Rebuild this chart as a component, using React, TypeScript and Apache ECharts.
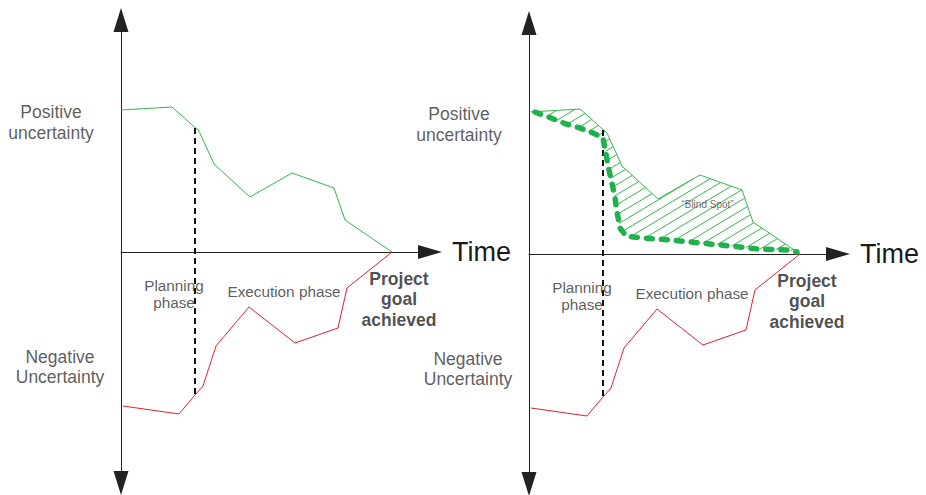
import React, { useEffect, useRef } from 'react';
import * as echarts from 'echarts';

// Shared curves (time units from the vertical axis, uncertainty above/below the time axis)
const positiveUncertainty = [[0, 142], [51, 145], [78, 121], [93, 88], [129, 55], [171, 79], [213, 64], [224, 32], [271, 0]];
const negativeUncertainty = [[2, -154], [58, -162], [74, -143], [82, -134], [95, -94], [128, -55], [174, -91], [217, -76], [226, -36], [271, 0]];
const phaseBoundary = [[74, 124], [74, -143]];
// Perceived uncertainty (thick dotted line, right panel only)
const perceivedUncertainty = [[6, 142], [22, 136], [37, 130], [51, 126], [64, 121], [74, 116], [77, 100], [80, 84], [83, 71], [86, 56], [88, 42], [91, 26], [97, 18], [113, 16], [142, 14], [171, 11], [201, 8], [229, 5], [258, 4], [268, 2]];

const annotationTexts = ['Positive\nuncertainty', 'Negative\nUncertainty', 'Planning\nphase', 'Execution phase', 'Project\ngoal\nachieved'];
const blindSpotText = '\u201CBlind Spot\u201D';
const axisName = 'Time';

const FONT = '"Liberation Sans", Arial, Helvetica, sans-serif';
const GREEN = '#35b54f';
const DOT_GREEN = '#1fb14c';
const RED = '#d9232f';

const annotationLayout = [
  { at: [-70, 129.5], size: 17.5, lh: 21, weight: 'normal', color: '#333' },
  { at: [-61, -115], size: 17.5, lh: 20, weight: 'normal', color: '#333' },
  { at: [53, -42], size: 15.3, lh: 17, weight: 'normal', color: '#333' },
  { at: [163, -39], size: 15.3, lh: 17, weight: 'normal', color: '#333' },
  { at: [278, -47], size: 17.5, lh: 20.5, weight: 'bold', color: '#222' },
];

const HATCH_ANGLE = 31;
const HATCH_STEP = 8.6;

function hatchRender(_params: any, api: any) {
  const ring = [...positiveUncertainty, ...perceivedUncertainty.slice().reverse()].map((p) => api.coord(p));
  const a = (HATCH_ANGLE * Math.PI) / 180;
  const d = [Math.cos(a), -Math.sin(a)];
  const n = [Math.sin(a), Math.cos(a)];
  let cmin = Infinity;
  let cmax = -Infinity;
  ring.forEach((p: number[]) => {
    const c = n[0] * p[0] + n[1] * p[1];
    cmin = Math.min(cmin, c);
    cmax = Math.max(cmax, c);
  });
  const children: any[] = [];
  for (let c = cmin + HATCH_STEP / 2; c < cmax; c += HATCH_STEP) {
    const pts: number[][] = [];
    for (let i = 0; i < ring.length; i++) {
      const p1 = ring[i];
      const p2 = ring[(i + 1) % ring.length];
      const s1 = n[0] * p1[0] + n[1] * p1[1] - c;
      const s2 = n[0] * p2[0] + n[1] * p2[1] - c;
      if ((s1 < 0) !== (s2 < 0)) {
        const t = s1 / (s1 - s2);
        pts.push([p1[0] + t * (p2[0] - p1[0]), p1[1] + t * (p2[1] - p1[1])]);
      }
    }
    pts.sort((u, v) => d[0] * u[0] + d[1] * u[1] - (d[0] * v[0] + d[1] * v[1]));
    for (let k = 0; k + 1 < pts.length; k += 2) {
      children.push({
        type: 'line',
        shape: { x1: pts[k][0], y1: pts[k][1], x2: pts[k + 1][0], y2: pts[k + 1][1] },
        style: { stroke: GREEN, lineWidth: 1 },
      });
    }
  }
  return { type: 'group', children };
}

function panelSeries(i: number, withBlindSpot: boolean) {
  const base = { xAxisIndex: i, yAxisIndex: i, silent: true };
  const s: any[] = [
    { ...base, type: 'line', data: positiveUncertainty, showSymbol: false, symbol: 'none', lineStyle: { color: GREEN, width: 1 }, z: 3 },
    { ...base, type: 'line', data: negativeUncertainty, showSymbol: false, symbol: 'none', lineStyle: { color: RED, width: 1 }, z: 3 },
    { ...base, type: 'line', data: phaseBoundary, showSymbol: false, symbol: 'none', lineStyle: { color: '#111', width: 2, type: [6, 4] }, z: 4 },
    {
      ...base,
      type: 'scatter',
      clip: false,
      symbolSize: 0,
      z: 6,
      data: annotationTexts.map((t, k) => ({
        value: annotationLayout[k].at,
        label: {
          show: true,
          position: 'inside',
          formatter: t,
          fontFamily: FONT,
          fontSize: annotationLayout[k].size,
          lineHeight: annotationLayout[k].lh,
          fontWeight: annotationLayout[k].weight,
          color: annotationLayout[k].color,
          align: 'center',
          verticalAlign: 'middle',
        },
      })),
    },
  ];
  if (withBlindSpot) {
    s.push({ ...base, type: 'custom', clip: false, data: [[0, 0]], renderItem: hatchRender, z: 2 });
    s.push({
      ...base,
      type: 'line',
      data: perceivedUncertainty,
      showSymbol: false,
      symbol: 'none',
      lineStyle: { color: DOT_GREEN, width: 5.5, type: [6, 9], cap: 'round' },
      z: 5,
    });
    s.push({
      ...base,
      type: 'scatter',
      clip: false,
      symbolSize: 0,
      z: 6,
      data: [{
        value: [178.5, 50],
        label: { show: true, position: 'inside', formatter: blindSpotText, fontFamily: FONT, fontSize: 10, color: '#444' },
      }],
    });
  }
  return s;
}

export default function App() {
  const ref = useRef<HTMLDivElement>(null);
  useEffect(() => {
    if (!ref.current) return;
    const chart = echarts.init(ref.current, undefined, { renderer: 'svg' });
    const xAxisCommon = {
      type: 'value',
      min: 0,
      max: 309,
      axisLine: { onZero: true, symbol: ['none', 'triangle'], symbolSize: [14, 24], lineStyle: { color: '#222', width: 1 } },
      axisTick: { show: false },
      axisLabel: { show: false },
      splitLine: { show: false },
      name: axisName,
      nameLocation: 'end',
      nameGap: 22,
      nameTextStyle: { fontSize: 27, color: '#1a1a1a', fontFamily: FONT, verticalAlign: 'middle', align: 'left' },
    };
    const yAxisCommon = {
      type: 'value',
      axisLine: { onZero: true, symbol: ['triangle', 'triangle'], symbolSize: [15, 24], lineStyle: { color: '#222', width: 1 } },
      axisTick: { show: false },
      axisLabel: { show: false },
      splitLine: { show: false },
    };
    chart.setOption({
      animation: false,
      backgroundColor: '#ffffff',
      grid: [
        { left: 121, top: 20, width: 309, height: 463, outerBoundsMode: 'none', containLabel: false },
        { left: 529, top: 23, width: 309, height: 461, outerBoundsMode: 'none', containLabel: false },
      ],
      xAxis: [
        { ...xAxisCommon, gridIndex: 0 },
        { ...xAxisCommon, gridIndex: 1 },
      ],
      yAxis: [
        { ...yAxisCommon, gridIndex: 0, min: -231, max: 232 },
        { ...yAxisCommon, gridIndex: 1, min: -230, max: 231 },
      ],
      series: [...panelSeries(0, false), ...panelSeries(1, true)],
    });
    return () => chart.dispose();
  }, []);
  return (
    <div
      ref={ref}
      style={{ position: 'fixed', left: 0, top: 0, width: 926, height: 495, background: '#fff' }}
    />
  );
}
